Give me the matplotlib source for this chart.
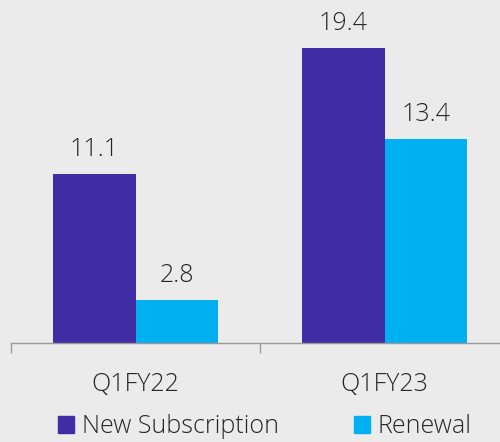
import matplotlib
matplotlib.use("Agg")
import matplotlib.pyplot as plt
import numpy as np
from matplotlib.patches import Patch

categories = ["Q1FY22", "Q1FY23"]
new_subscription = [11.1, 19.4]
renewal = [2.8, 13.4]

bg = "#EBEBEB"
purple = "#402DA5"
cyan = "#00B0F0"
txt = "#262626"

plt.rcParams["font.family"] = ["Open Sans", "DejaVu Sans"]
plt.rcParams["font.weight"] = "light"

fig = plt.figure(figsize=(5, 4.42), dpi=100, facecolor=bg)
ax = fig.add_axes([0.022, 0.224, 0.996, 0.776], facecolor=bg)

x = np.arange(len(categories))
w = 0.332
b1 = ax.bar(x - w / 2, new_subscription, w, color=purple, label="New Subscription")
b2 = ax.bar(x + w / 2, renewal, w, color=cyan, label="Renewal")

for bars in (b1, b2):
    for r in bars:
        ax.annotate("{:.1f}".format(r.get_height()),
                    (r.get_x() + r.get_width() / 2, r.get_height()),
                    xytext=(0, 12), textcoords="offset pixels",
                    ha="center", va="bottom", fontsize=18, color=txt)

ax.set_xlim(-0.5, 1.5)
ax.set_ylim(0, 22.56)
for s in ("top", "right", "left"):
    ax.spines[s].set_visible(False)
ax.spines["bottom"].set_color("#9A9A9A")
ax.spines["bottom"].set_linewidth(1)
ax.set_yticks([])
ax.set_xticks(x)
ax.set_xticklabels(categories, fontsize=18, color=txt)
ax.tick_params(axis="x", which="major", length=0, pad=21)
ax.set_xticks([-0.5, 0.5, 1.5], minor=True)
ax.tick_params(axis="x", which="minor", length=7, color="#9A9A9A", width=1)

handles = [Patch(color=purple), Patch(color=cyan)]
fig.legend(handles, ["New Subscription", "Renewal"], loc="lower center",
           bbox_to_anchor=(0.529, -0.045), ncol=2, frameon=False,
           fontsize=18, handlelength=0.64, handleheight=0.64,
           handletextpad=0.32, columnspacing=3.0, labelcolor=txt)

fig.savefig("out.png", dpi=100, facecolor=bg)
